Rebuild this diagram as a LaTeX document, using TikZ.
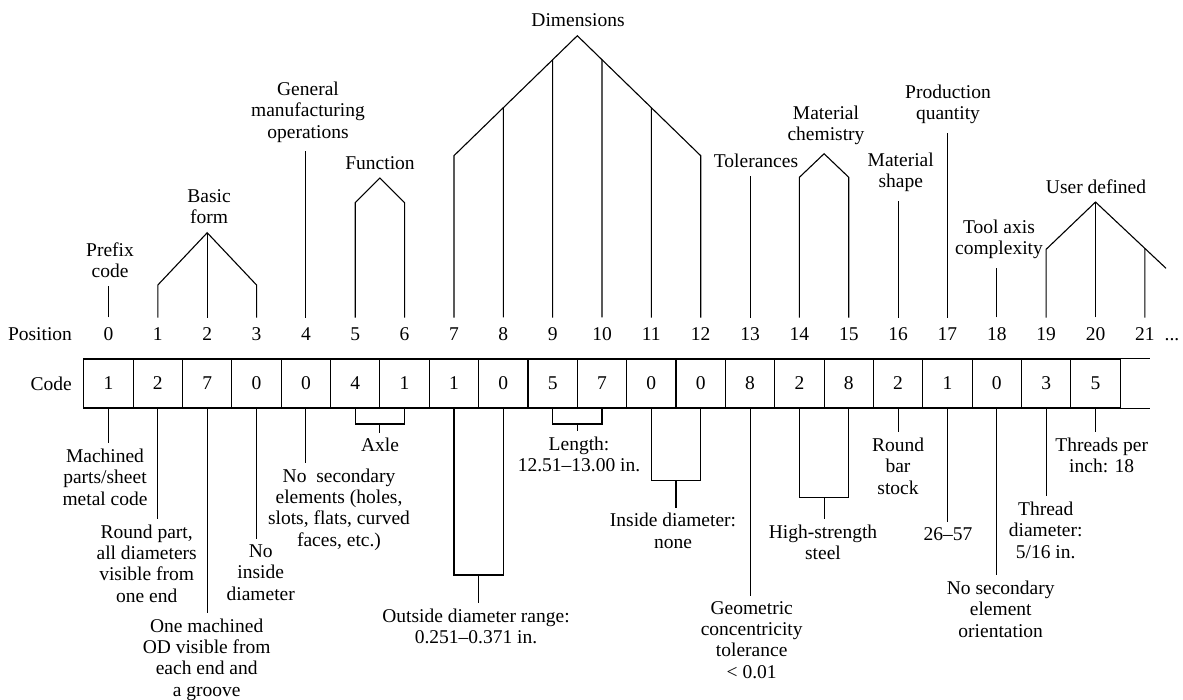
\documentclass[tikz,border=0pt]{standalone}
\usepackage{fontspec}
\setmainfont{Liberation Serif}
\usetikzlibrary{calc}

\tikzset{
  cell/.style={draw, minimum width=49.35pt, minimum height=49pt, inner sep=0pt},
  num/.style={anchor=base, inner xsep=1pt, inner ysep=10pt},
  toplbl/.style={anchor=base, align=center, inner xsep=2pt, inner ysep=8pt},
  botlbl/.style={anchor=base, align=center, inner xsep=2pt, inner ysep=5pt},
}

\begin{document}
\begin{tikzpicture}[x=1pt, y=-1pt, line width=1.1pt, font=\fontsize{19.5}{21.3}\selectfont]
    \useasboundingbox (0,0) rectangle (1183,700);

    % row names
    \node[anchor=base] (position) at (40,341) {Position};
    \node[anchor=base] (code) at (51.3,390) {Code};

    % position numbers and code cells
    \foreach \i in {0,...,21}
        \node[num] (p\i) at ({108.5+49.35*\i},341) {\i};
    \node[anchor=base west, inner sep=0pt] (dots) at ([xshift=8pt]p21.base east) {...};
    \foreach \v [count=\i from 0] in {1,2,7,0,0,4,1,1,0,5,7,0,0,8,2,8,2,1,0,3,5}
        \node[cell] (c\i) at ({108.5+49.35*\i},383.5) {\v};
    \draw (c20.north east) -- ++(29.5,0);
    \draw (c20.south east) -- ++(29.5,0);

    % upper labels (base = last line)
    \node[toplbl] (prefix) at (110,277.7) {Prefix\\code};
    \node[toplbl] (basic) at (209,224) {Basic\\form};
    \node[toplbl] (general) at (308,138.3) {General\\manufacturing\\operations};
    \node[toplbl] (function) at (380,169.3) {Function};
    \node[toplbl] (dims) at (578,27) {Dimensions};
    \node[toplbl] (tol) at (756,167.7) {Tolerances};
    \node[toplbl] (chem) at (826,141) {Material\\chemistry};
    \node[toplbl] (shape) at (900.7,188) {Material\\shape};
    \node[toplbl] (prod) at (948,120) {Production\\quantity};
    \node[toplbl] (tool) at (999,255) {Tool axis\\complexity};
    \node[toplbl] (user) at (1096,193.3) {User defined};

    % single leaders
    \draw (p0.north) -- (p0.north |- prefix.south);
    \draw (p4.north) -- (p4.north |- general.south);
    \draw (p13.north) -- (p13.north |- tol.south);
    \draw (p16.north) -- (p16.north |- shape.south);
    \draw (p17.north) -- (p17.north |- prod.south);
    \draw (p18.north) -- (p18.north |- tool.south);

    % basic form
    \coordinate (b1) at (p1.north |- 0,285);
    \coordinate (b3) at (p3.north |- 0,285);
    \coordinate (btop) at (p2.north |- basic.south);
    \draw (p1.north) -- (b1) -- (btop) -- (b3) -- (p3.north);
    \draw (p2.north) -- (btop);

    % function
    \coordinate (fmid) at ($(p5.north)!0.5!(p6.north)$);
    \coordinate (ftop) at (fmid |- function.south);
    \draw (p5.north) -- (p5.north |- 0,202.7) -- (ftop) -- (p6.north |- 0,202.7) -- (p6.north);

    % dimensions
    \coordinate (d7) at (p7.north |- 0,155.7);
    \coordinate (d12) at (p12.north |- 0,155.7);
    \coordinate (dmid) at ($(p9.north)!0.5!(p10.north)$);
    \coordinate (dtop) at (dmid |- dims.south);
    \draw (p7.north) -- (d7) -- (dtop) -- (d12) -- (p12.north);
    \draw (p8.north) -- ($(d7)!0.4!(dtop)$);
    \draw (p9.north) -- ($(d7)!0.8!(dtop)$);
    \draw (p10.north) -- ($(d12)!0.8!(dtop)$);
    \draw (p11.north) -- ($(d12)!0.4!(dtop)$);

    % material chemistry
    \coordinate (mmid) at ($(p14.north)!0.5!(p15.north)$);
    \coordinate (mtop) at (mmid |- chem.south);
    \draw (p14.north) -- (p14.north |- 0,177.3) -- (mtop) -- (p15.north |- 0,177.3) -- (p15.north);

    % user defined
    \coordinate (utop) at (p20.north |- user.south);
    \coordinate (uend) at (1166,268.3);
    \draw (p19.north) -- (p19.north |- 0,249.3) -- (utop) -- (uend);
    \draw (p20.north) -- (utop);
    \draw (p21.north) -- ($(utop)!0.7!(uend)$);

    % lower labels (base = last line)
    \node[botlbl] (l0) at (105,505) {Machined\\parts/sheet\\metal code};
    \node[botlbl] (l1) at (146.7,602) {Round part,\\all diameters\\visible from\\one end};
    \node[botlbl] (l2) at (206.7,696) {One machined\\OD visible from\\each end and\\a groove};
    \node[botlbl] (l3) at (260.7,600) {No\\inside\\diameter};
    \node[botlbl] (l4) at (339,546) {No~ secondary\\elements (holes,\\slots, flats, curved\\faces, etc.)};
    \node[botlbl] (axle) at (380,451.7) {Axle};
    \node[botlbl] (outside) at (476,643.3) {Outside diameter range:\\0.251–0.371 in.};
    \node[botlbl] (length) at (579,471.7) {Length:\\12.51–13.00 in.};
    \node[botlbl] (inside) at (673,548) {Inside diameter:\\none};
    \node[botlbl] (geo) at (751.7,678) {Geometric\\concentricity\\tolerance\\< 0.01};
    \node[botlbl] (steel) at (823,559.3) {High-strength\\steel};
    \node[botlbl] (bar) at (898,494) {Round\\bar\\stock};
    \node[botlbl] (qty) at (948,540.7) {26–57};
    \node[botlbl] (orient) at (1000.7,637) {No secondary\\element\\orientation};
    \node[botlbl] (tdia) at (1045.7,558) {Thread\\diameter:\\5/16 in.};
    \node[botlbl] (tpi) at (1101.7,472.7) {Threads per\\inch: 18};

    % single leaders below
    \draw (c0.south) -- (c0.south |- l0.north);
    \draw (c1.south) -- (c1.south |- l1.north);
    \draw (c2.south) -- (c2.south |- l2.north);
    \draw (c3.south) -- (c3.south |- l3.north);
    \draw (c4.south) -- (c4.south |- l4.north);
    \draw (c13.south) -- (c13.south |- geo.north);
    \draw (c16.south) -- (c16.south |- bar.north);
    \draw (c17.south) -- (c17.south |- qty.north);
    \draw (c18.south) -- (c18.south |- orient.north);
    \draw (c19.south) -- (c19.south |- tdia.north);
    \draw (c20.south) -- (c20.south |- tpi.north);

    % brackets below
    \draw (c5.south) -- (c5.south |- 0,424) -- (c6.south |- 0,424) -- (c6.south);
    \coordinate (amid) at ($(c5.south)!0.5!(c6.south)$);
    \draw (amid |- 0,424) -- (amid |- axle.north);

    \draw (c7.south) -- (c7.south |- 0,575) -- (c8.south |- 0,575) -- (c8.south);
    \coordinate (omid) at ($(c7.south)!0.5!(c8.south)$);
    \draw (omid |- 0,575) -- (omid |- outside.north);

    \draw (c9.south) -- (c9.south |- 0,424) -- (c10.south |- 0,424) -- (c10.south);
    \coordinate (lmid) at ($(c9.south)!0.5!(c10.south)$);
    \draw (lmid |- 0,424) -- (lmid |- length.north);

    \draw (c11.south) -- (c11.south |- 0,480.7) -- (c12.south |- 0,480.7) -- (c12.south);
    \coordinate (imid) at ($(c11.south)!0.5!(c12.south)$);
    \draw (imid |- 0,480.7) -- (imid |- inside.north);

    \draw (c14.south) -- (c14.south |- 0,497.7) -- (c15.south |- 0,497.7) -- (c15.south);
    \coordinate (smid) at ($(c14.south)!0.5!(c15.south)$);
    \draw (smid |- 0,497.7) -- (smid |- steel.north);
\end{tikzpicture}
\end{document}
